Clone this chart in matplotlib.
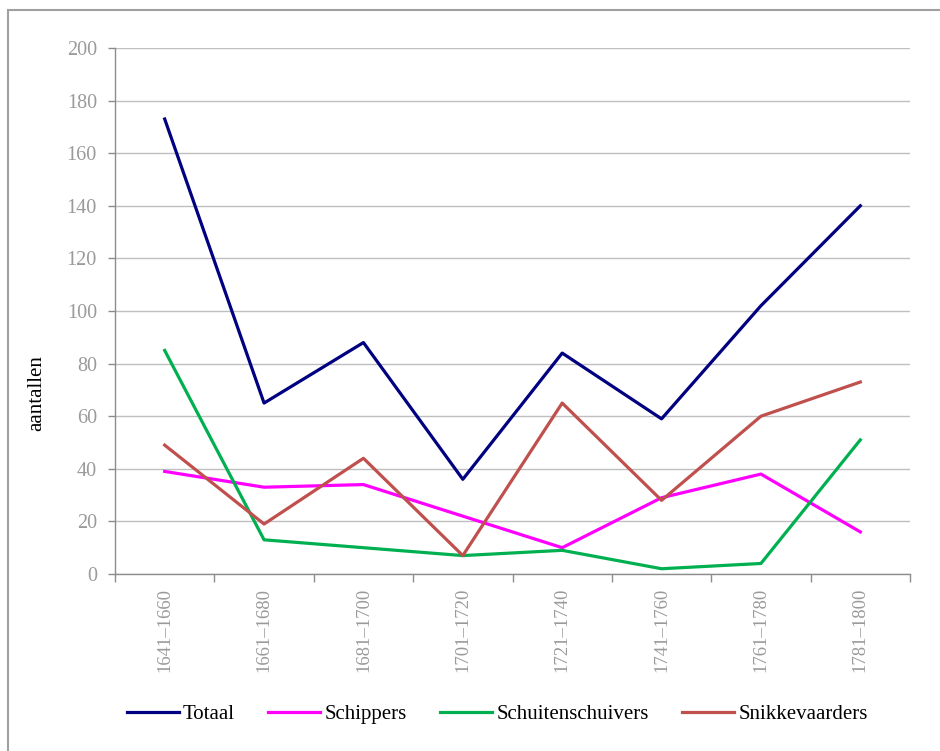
import matplotlib
matplotlib.use('Agg')
from matplotlib import pyplot as plt
from matplotlib.patches import Rectangle

# twintig-jaarsperioden en aantallen per beroepsgroep
periodes = ['1641–1660', '1661–1680', '1681–1700', '1701–1720',
            '1721–1740', '1741–1760', '1761–1780', '1781–1800']
totaal = [173, 65, 88, 36, 84, 59, 102, 140]
schippers = [39, 33, 34, 22, 10, 29, 38, 16]
schuitenschuivers = [85, 13, 10, 7, 9, 2, 4, 51]
snikkevaarders = [49, 19, 44, 7, 65, 28, 60, 73]

plt.rcParams['font.family'] = ['Liberation Serif', 'DejaVu Serif']

fig = plt.figure(figsize=(9.4, 7.51), dpi=100)
ax = fig.add_axes([115 / 940, 1 - 574 / 751, 795 / 940, 526 / 751])

x = list(range(len(periodes)))
ax.plot(x, totaal, color='#000080', lw=2.3, label='Totaal')
ax.plot(x, schippers, color='#FF00FF', lw=2.3, label='Schippers')
ax.plot(x, schuitenschuivers, color='#00B050', lw=2.3, label='Schuitenschuivers')
ax.plot(x, snikkevaarders, color='#C0504D', lw=2.3, label='Snikkevaarders')

ax.set_xlim(-0.5, len(periodes) - 0.5)
ax.set_ylim(0, 200)
ax.set_yticks(range(0, 201, 20))
ax.yaxis.grid(True, color='#BFBFBF', lw=1)
ax.set_axisbelow(True)

# labels centered in each category, tick marks on the boundaries
ax.set_xticks([i - 0.5 for i in range(len(periodes) + 1)])
ax.set_xticklabels([])
ax.set_xticks(x, minor=True)
ax.set_xticklabels(periodes, minor=True, rotation=90, color='#9A9A9A', fontsize=13.5)
ax.tick_params(axis='x', which='minor', length=0, pad=10)
ax.tick_params(axis='x', which='major', length=6, color='#8C8C8C', width=1)
ax.tick_params(axis='y', length=5, color='#8C8C8C', labelcolor='#9A9A9A',
               labelsize=14.5, pad=8, width=1)

for side in ['top', 'right']:
    ax.spines[side].set_visible(False)
for side in ['left', 'bottom']:
    ax.spines[side].set_color('#8C8C8C')
    ax.spines[side].set_linewidth(1)

ax.set_ylabel('aantallen', fontsize=15)
ax.yaxis.set_label_coords(-69 / 795, 0.344)

fig.legend(loc='center', bbox_to_anchor=(497 / 940, 1 - 714 / 751), ncol=4,
           frameon=False, fontsize=15, handlelength=2.5, handletextpad=0.2,
           columnspacing=1.6)

# grijze kader rond de grafiek
fig.patches.append(Rectangle((8 / 940, -0.05), 1.0, 1 - 10 / 751 + 0.05,
                             transform=fig.transFigure, fill=False,
                             edgecolor='#A0A0A0', lw=1.5, clip_on=False))

fig.savefig('out.png', dpi=100, facecolor='white')
